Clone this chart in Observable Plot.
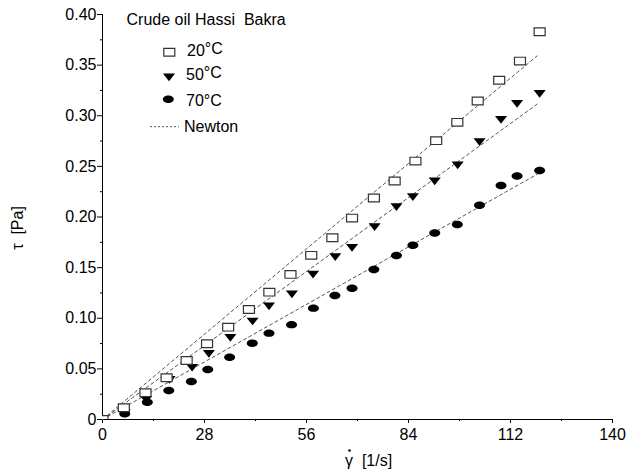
<!DOCTYPE html>
<html><head><meta charset="utf-8">
<script src="https://cdn.jsdelivr.net/npm/d3@7"></script>
<script src="https://cdn.jsdelivr.net/npm/@observablehq/plot@0.6"></script>
<style>
body{margin:0;background:#fff;}
#wrap{position:relative;width:640px;height:473px;font-family:"Liberation Sans",Arial,sans-serif;}
#wrap svg{position:absolute;left:0;top:0;}
</style></head><body><div id="wrap"></div>
<script>
// ---- data ----
const seriesNames = ["20°C", "50°C", "70°C"];
const gamma20 = [0, 5.85, 11.8, 17.6, 23.1, 28.7, 34.5, 40.2, 45.8, 51.6, 57.3, 63.1, 68.5, 74.5, 80.2, 85.9, 91.6, 97.4, 103.0, 108.9, 114.6, 120.0];
const tau20   = [0, 0.0116, 0.0264, 0.0412, 0.0583, 0.0748, 0.0912, 0.1087, 0.1258, 0.1433, 0.1621, 0.1795, 0.1989, 0.2187, 0.2355, 0.2552, 0.2754, 0.2935, 0.3145, 0.335, 0.354, 0.383];
const gamma50 = [0, 6.1, 12.0, 18.4, 24.6, 29.2, 35.1, 41.2, 45.7, 52.0, 57.8, 63.9, 68.5, 74.7, 80.7, 85.2, 91.2, 97.5, 103.5, 109.4, 113.8, 120.0];
const tau50   = [0, 0.0062, 0.0195, 0.0392, 0.0511, 0.0649, 0.0807, 0.0968, 0.1117, 0.1235, 0.143, 0.1604, 0.1696, 0.19, 0.2098, 0.2196, 0.2351, 0.2509, 0.2739, 0.296, 0.3118, 0.3217];
const gamma70 = [0, 6.1, 12.3, 18.2, 24.4, 28.9, 34.9, 41.1, 45.7, 51.9, 57.9, 63.8, 68.5, 74.5, 80.7, 85.2, 91.2, 97.4, 103.5, 109.4, 113.8, 120.0];
const tau70   = [0, 0.0056, 0.0171, 0.0286, 0.0375, 0.0494, 0.0615, 0.0754, 0.0853, 0.0937, 0.110, 0.1225, 0.1297, 0.1482, 0.162, 0.1722, 0.1841, 0.1927, 0.2115, 0.2312, 0.2404, 0.246];
// Newton fits: tau = eta * gamma
const newtonEta = [0.00301, 0.00261, 0.00203];
const newtonGammaEnd = [0, 119.3];
const xTicks = [0, 28, 56, 84, 112, 140];
const xMinorTicks = [14, 42, 70, 98, 126];
const yTicks = [0, 0.05, 0.10, 0.15, 0.20, 0.25, 0.30, 0.35, 0.40];
const yMinorTicks = [0.025, 0.075, 0.125, 0.175, 0.225, 0.275, 0.325, 0.375];
const legendTitle = "Crude oil Hassi\u00a0 Bakra";
const legendLabels = ["20", "50", "70°C", "Newton"];
const xLabelSymbol = "γ";
const xLabelUnit = "\u00a0 [1/s]";
const yLabel = "τ\u00a0 [Pa]";

// ---- build tables ----
const toRows = (g, t, s) => g.map((x, i) => ({x, y: t[i], s}));
const d20 = toRows(gamma20, tau20, seriesNames[0]);
const d50 = toRows(gamma50, tau50, seriesNames[1]);
const d70 = toRows(gamma70, tau70, seriesNames[2]);
const newton = newtonEta.flatMap((eta, i) => newtonGammaEnd.map(g => ({x: g, y: eta * g, s: seriesNames[i]})));

// ---- custom symbols (markers are wider than tall) ----
const K = 0.5523;
const rectSym = {draw(c, size) {const r = Math.sqrt(size / Math.PI); const w = r, h = r * 0.7; c.moveTo(-w, -h); c.lineTo(w, -h); c.lineTo(w, h); c.lineTo(-w, h); c.closePath();}};
const triDownSym = {draw(c, size) {const r = Math.sqrt(size / Math.PI); const w = r * 1.1, h = r * 0.7; c.moveTo(-w, -h); c.lineTo(w, -h); c.lineTo(0, h); c.closePath();}};
const ellipseSym = {draw(c, size) {const r = Math.sqrt(size / Math.PI); const w = r, h = r * 0.68;
  c.moveTo(w, 0); c.bezierCurveTo(w, h * K, w * K, h, 0, h); c.bezierCurveTo(-w * K, h, -w, h * K, -w, 0);
  c.bezierCurveTo(-w, -h * K, -w * K, -h, 0, -h); c.bezierCurveTo(w * K, -h, w, -h * K, w, 0); c.closePath();}};

const font = '"Liberation Sans", Arial, sans-serif';
const fmtY = d => d === 0 ? "0" : d.toFixed(2);
const R = 5.5;

const chart = Plot.plot({
  width: 640, height: 473,
  marginLeft: 102, marginRight: 28, marginTop: 14, marginBottom: 54,
  style: {fontFamily: font, fontSize: "16px", color: "#000", background: "transparent", overflow: "visible"},
  x: {domain: [0, 140]},
  y: {domain: [0, 0.4]},
  marks: [
    Plot.axisX({ticks: xTicks, tickSize: 4, tickPadding: 5, tickFormat: d => String(d), label: null, fontSize: 16}),
    Plot.axisX({ticks: xMinorTicks, tickSize: 2, tickFormat: () => "", label: null}),
    Plot.axisY({ticks: yTicks, tickSize: 5, tickPadding: 1, tickFormat: fmtY, label: null, fontSize: 16}),
    Plot.axisY({ticks: yMinorTicks, tickSize: 2, tickFormat: () => "", label: null}),
    Plot.ruleX([0], {stroke: "#000"}),
    Plot.ruleY([0], {stroke: "#000"}),
    Plot.line(newton, {x: "x", y: "y", z: "s", stroke: "#555", strokeWidth: 1, strokeDasharray: "3,3"}),
    Plot.dot(d70, {x: "x", y: "y", symbol: ellipseSym, r: R, fill: "#000", stroke: "none", clip: true}),
    Plot.dot(d50, {x: "x", y: "y", symbol: triDownSym, r: R, fill: "#000", stroke: "none", clip: true}),
    Plot.dot(d20, {x: "x", y: "y", symbol: rectSym, r: R, fill: "white", stroke: "#333", strokeWidth: 1.2, clip: true})
  ]
});
const wrap = document.getElementById("wrap");
wrap.appendChild(chart);

// ---- overlay: axis titles and legend ----
const ov = d3.select(wrap).append("svg").attr("width", 640).attr("height", 473)
  .style("font-family", font).style("font-size", "16px");
ov.append("text").attr("transform", "translate(23,228) rotate(-90)").attr("text-anchor", "middle").text(yLabel);
// x title: gamma with an overdot (shear rate)
const xt = ov.append("text").attr("x", 345).attr("y", 466);
xt.append("tspan").text(xLabelSymbol);
xt.append("tspan").text(xLabelUnit);
ov.append("circle").attr("cx", 349.5).attr("cy", 450.5).attr("r", 1.3).attr("fill", "#000");

ov.append("text").attr("x", 126.5).attr("y", 25).text(legendTitle);
const sym = (s, cx, cy, attrs) => {
  const p = ov.append("path").attr("d", d3.symbol(s, R * R * Math.PI)()).attr("transform", `translate(${cx},${cy})`);
  Object.entries(attrs).forEach(([k, v]) => p.attr(k, v));
};
sym(rectSym, 169.3, 52.3, {fill: "white", stroke: "#333", "stroke-width": 1.2});
sym(triDownSym, 169, 77.3, {fill: "#000"});
sym(ellipseSym, 168.3, 99.3, {fill: "#000"});
ov.append("line").attr("x1", 150).attr("x2", 179).attr("y1", 126.7).attr("y2", 126.7)
  .attr("stroke", "#555").attr("stroke-dasharray", "2,2");
const t1 = ov.append("text").attr("x", 187).attr("y", 56);
t1.append("tspan").text(legendLabels[0]); t1.append("tspan").attr("dy", -2.5).text("°C");
const t2 = ov.append("text").attr("x", 186).attr("y", 80);
t2.append("tspan").text(legendLabels[1]); t2.append("tspan").attr("dy", -2.5).text("°C");
ov.append("text").attr("x", 186).attr("y", 106).text(legendLabels[2]);
ov.append("text").attr("x", 184).attr("y", 132).text(legendLabels[3]);
</script></body></html>
